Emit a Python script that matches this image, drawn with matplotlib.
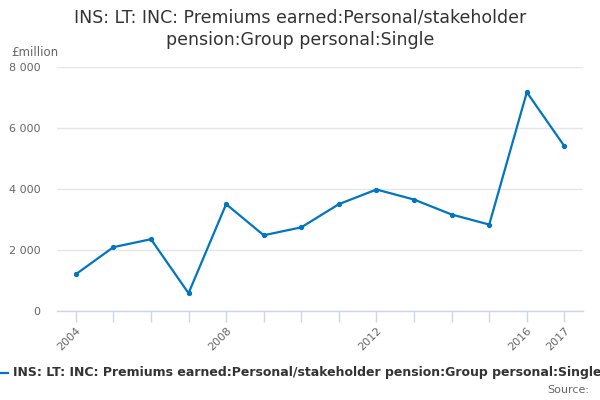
import matplotlib
matplotlib.use("Agg")
import matplotlib.pyplot as plt
from matplotlib.ticker import FuncFormatter
from matplotlib.lines import Line2D

years = [2004, 2005, 2006, 2007, 2008, 2009, 2010, 2011, 2012, 2013, 2014, 2015, 2016, 2017]
values = [1210, 2100, 2360, 590, 3510, 2490, 2750, 3510, 3990, 3660, 3170, 2840, 7180, 5410]
label_years = [2004, 2008, 2012, 2016, 2017]
series_name = "INS: LT: INC: Premiums earned:Personal/stakeholder pension:Group personal:Single"
title = "INS: LT: INC: Premiums earned:Personal/stakeholder\npension:Group personal:Single"

color = "#0076c0"
fig = plt.figure(figsize=(6, 4), dpi=100)
ax = fig.add_axes([0.095, 0.222, 0.877, 0.61])
ax.plot(years, values, color=color, lw=1.6, marker="o", ms=2.8, zorder=3)
ax.set_xlim(2003.5, 2017.5)
ax.set_ylim(0, 8000)
ax.set_yticks([0, 2000, 4000, 6000, 8000])
ax.yaxis.set_major_formatter(FuncFormatter(lambda v, p: f"{int(v):,}".replace(",", " ")))
ax.set_xticks(years)
ax.set_xticklabels([str(y) if y in label_years else "" for y in years], rotation=45,
                   ha="right", rotation_mode="anchor", color="#666666", fontsize=8)
ax.tick_params(axis="x", length=8, color="#ccd6eb", width=1, pad=2)
ax.tick_params(axis="y", length=0, colors="#666666", labelsize=8, pad=12)
ax.grid(axis="y", color="#e6e6e6", lw=1)
ax.set_axisbelow(True)
for s in ["top", "right", "left"]:
    ax.spines[s].set_visible(False)
ax.spines["bottom"].set_color("#ccd6eb")
ax.spines["bottom"].set_linewidth(1)

fig.text(0.5, 0.978, title, ha="center", va="top", fontsize=12.5, color="#333333", linespacing=1.3)
fig.text(0.018, 0.852, "£million", ha="left", va="bottom", fontsize=8.5, color="#666666")

# legend
fig.add_artist(Line2D([0.0, 0.013], [0.068, 0.068], color=color, lw=1.6, transform=fig.transFigure))
fig.text(0.022, 0.068, series_name, ha="left", va="center", fontsize=9, fontweight="bold", color="#333333")
fig.text(0.982, 0.025, "Source:", ha="right", va="center", fontsize=8, color="#666666")

fig.savefig("out.png", dpi=100)
